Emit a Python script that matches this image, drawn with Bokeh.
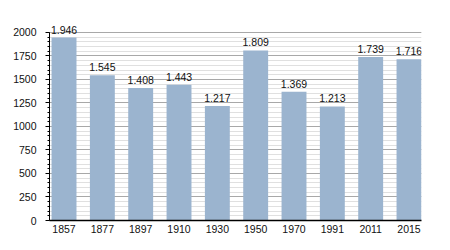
from bokeh.plotting import figure
from bokeh.models import ColumnDataSource, Range1d, SingleIntervalTicker, FixedTicker, LabelSet
from bokeh.core.properties import value
from bokeh.embed import file_html
from bokeh.resources import INLINE

years = ["1857", "1877", "1897", "1910", "1930", "1950", "1970", "1991", "2011", "2015"]
population = [1946, 1545, 1408, 1443, 1217, 1809, 1369, 1213, 1739, 1716]
labels = ["{:,}".format(v).replace(",", ".") for v in population]
pos = list(range(len(years)))

src = ColumnDataSource(dict(x=pos, y=population, lab=labels))

p = figure(width=450, height=250, output_backend="svg", toolbar_location=None,
           x_range=Range1d(-0.379, 9.326),
           y_range=Range1d(0, 2180),
           min_border_left=49, min_border_right=29, min_border_top=15, min_border_bottom=30)
p.outline_line_color = None
p.background_fill_color = "white"
p.border_fill_color = "white"

p.vbar(x="x", top="y", width=0.65, source=src, color="#9bb4cf", line_color=None)

p.add_layout(LabelSet(x="x", y="y", text="lab", source=src, text_align="center",
                      text_baseline="bottom", y_offset=4, text_font=value("Liberation Sans"),
                      text_font_size=value("10.5px"), text_color="#111111"))

p.yaxis.ticker = SingleIntervalTicker(interval=250, num_minor_ticks=5)
p.yaxis.bounds = (0, 2000)
p.yaxis.major_label_text_font = "Liberation Sans"
p.yaxis.major_label_text_font_size = "10.5px"
p.yaxis.major_label_text_color = "#111111"
p.yaxis.axis_line_color = "black"
p.yaxis.major_tick_line_color = "black"
p.yaxis.minor_tick_line_color = "black"
p.yaxis.major_tick_out = 4
p.yaxis.major_tick_in = 0
p.yaxis.minor_tick_out = 2
p.yaxis.minor_tick_in = 0
p.yaxis.major_label_standoff = 9

p.xaxis.ticker = FixedTicker(ticks=pos)
p.xaxis.major_label_overrides = {i: y for i, y in zip(pos, years)}
p.xaxis.major_label_text_font = "Liberation Sans"
p.xaxis.major_label_text_font_size = "10.5px"
p.xaxis.major_label_text_color = "#111111"
p.xaxis.axis_line_color = "black"
p.xaxis.axis_line_width = 1.5
p.xaxis.major_tick_line_color = None
p.xaxis.minor_tick_line_color = None
p.xaxis.major_tick_out = 0
p.xaxis.major_tick_in = 0
p.xaxis.major_label_standoff = 4

p.xgrid.grid_line_color = None
p.ygrid.grid_line_color = "#a8a8a8"
p.ygrid.minor_grid_line_color = "#e0e0e0"
p.ygrid.bounds = (0, 2000)
p.ygrid.level = "underlay"

open("out.html", "w").write(file_html(p, INLINE))
